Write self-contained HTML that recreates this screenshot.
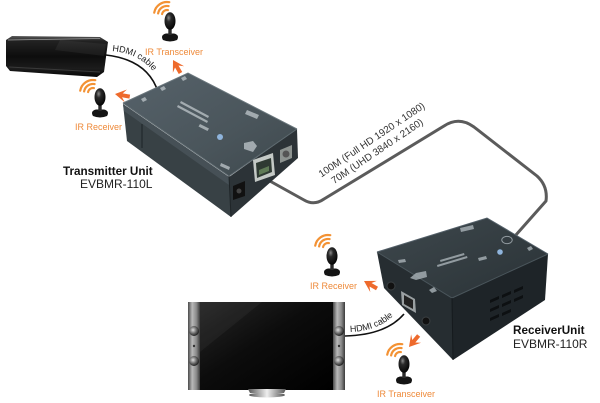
<!DOCTYPE html>
<html><head><meta charset="utf-8"><style>
html,body{margin:0;padding:0;background:#fff;}
svg{display:block;}
text{font-family:"Liberation Sans",Arial,sans-serif;}
</style></head><body>
<svg width="600" height="403" viewBox="0 0 600 403" xmlns="http://www.w3.org/2000/svg">
<defs>
 <radialGradient id="head" cx="0.38" cy="0.32" r="0.75">
  <stop offset="0" stop-color="#8a8a8a"/><stop offset="0.3" stop-color="#2a2a2a"/><stop offset="1" stop-color="#000"/>
 </radialGradient>
 <linearGradient id="ps3" x1="0" y1="0" x2="0" y2="1">
  <stop offset="0" stop-color="#5a5a5a"/><stop offset="0.12" stop-color="#222"/><stop offset="0.5" stop-color="#0d0d0d"/><stop offset="0.8" stop-color="#1c1c1c"/><stop offset="1" stop-color="#050505"/>
 </linearGradient>
 <linearGradient id="ttop" x1="0" y1="0" x2="1" y2="1">
  <stop offset="0" stop-color="#56626a"/><stop offset="0.6" stop-color="#4a555b"/><stop offset="1" stop-color="#3e484d"/>
 </linearGradient>
 <linearGradient id="rtop" x1="0" y1="0" x2="1" y2="1">
  <stop offset="0" stop-color="#3e484d"/><stop offset="1" stop-color="#2a3236"/>
 </linearGradient>
 <linearGradient id="bez" x1="0" y1="0" x2="1" y2="0">
  <stop offset="0" stop-color="#4a4a4a"/><stop offset="0.35" stop-color="#b8b8b8"/><stop offset="0.7" stop-color="#8a8a8a"/><stop offset="1" stop-color="#3a3a3a"/>
 </linearGradient>
 <linearGradient id="scr" x1="0" y1="0" x2="1" y2="1">
  <stop offset="0" stop-color="#262626"/><stop offset="0.45" stop-color="#0c0c0c"/><stop offset="1" stop-color="#000"/>
 </linearGradient>
 <radialGradient id="spk" cx="0.4" cy="0.4" r="0.6">
  <stop offset="0" stop-color="#ddd"/><stop offset="0.6" stop-color="#666"/><stop offset="1" stop-color="#222"/>
 </radialGradient>
 <linearGradient id="stand" x1="0" y1="0" x2="1" y2="0">
  <stop offset="0" stop-color="#555"/><stop offset="0.5" stop-color="#eee"/><stop offset="1" stop-color="#555"/>
 </linearGradient>
 <g id="sensor">
  <path d="M-7,19 Q-10,14 -4,12.5 L4,12.5 Q10,14 7,19 Q0,22 -7,19Z" fill="#141414"/>
  <rect x="-1.7" y="7" width="3.4" height="7" fill="#2a2a2a"/>
  <ellipse cx="0" cy="0" rx="5.5" ry="8.8" fill="url(#head)"/>
 </g>
 <g id="waves" fill="none" stroke="#f39234" stroke-width="2.2" stroke-linecap="round">
  <path d="M-4.9,-0.9 A5,5 0 0 1 0.9,-4.9"/>
  <path d="M-8.9,-1.6 A9,9 0 0 1 1.6,-8.9"/>
  <path d="M-12.8,-2.3 A13,13 0 0 1 2.3,-12.8"/>
 </g>
 <path id="arr" d="M0,0 L-11,-6.5 L-7.5,-2 L-15,-2 L-15,2 L-7.5,2 L-11,6.5 Z" fill="#ee6a2c"/>
</defs>

<!-- PS3 -->
<path d="M6,40 L12,36 L100,37 L108,42 L104,72 L97,77 L10,71 L6,66 Z" fill="url(#ps3)"/>
<path d="M8,40 L100,38.5" stroke="#9a9a9a" stroke-width="0.8"/>
<path d="M9,67 L100,72" stroke="#3a3a3a" stroke-width="1"/>
<path d="M60,40 L106,44 L104,56 L55,50 Z" fill="#ffffff" opacity="0.05"/>

<!-- top HDMI cable -->
<path d="M106,55 Q148,60 158,92" fill="none" stroke="#111" stroke-width="1.6"/>
<path id="hc1" d="M112,51 Q146,54 160,82" fill="none"/>
<text font-size="9" fill="#222"><textPath href="#hc1">HDMI cable</textPath></text>

<!-- main cable -->
<path d="M268,180 L304,200 Q314,206 324,199 L444,126 Q459,116 474,127 L537,176 Q548,186 546,201 L515,236" fill="none" stroke="#5b5b5b" stroke-width="3" stroke-linejoin="round"/>
<text font-size="10" fill="#333" text-anchor="middle" transform="translate(373.5,142.5) rotate(-34)">100M (Full HD 1920 x 1080)</text>
<text font-size="10" fill="#333" text-anchor="middle" transform="translate(379,154) rotate(-34)">70M (UHD 3840 x 2160)</text>

<!-- Transmitter box -->
<path d="M123,104 L229,177 L231,217 L127,141 Z" fill="#384145"/>
<path d="M123,104 L229,177 L229,185 L124,111 Z" fill="#465056"/>
<path d="M142,124 L142,148" stroke="#22292c" stroke-width="1.2"/>
<path d="M229,177 L297,129 L298,158 L231,217 Z" fill="#2c3337"/>
<path d="M123,103 L188,73 L297,129 L229,176 Z" fill="url(#ttop)"/>
<path d="M123,103 L188,73 L297,129" fill="none" stroke="#6b777d" stroke-width="1"/>
<path d="M123,103 L229,176 L297,129" fill="none" stroke="#5e6a70" stroke-width="1"/>
<path d="M229,176 L231,217" stroke="#1f2528" stroke-width="1"/>
<!-- top details -->
<g fill="#b8c0c4" opacity="0.8">
 <path d="M181,78 l4,-2 l2,3 l-4,2z"/>
 <path d="M160,88 l4,-2 l2,3 l-4,2z"/>
 <path d="M141,99 l4,-2 l2,3 l-4,2z"/>
 <path d="M181,101 l28,15 l-1,2 l-28,-15z"/>
 <path d="M178,105 l30,16 l-1,2 l-30,-16z"/>
 <path d="M200,124 l9,4.5 l-1.5,2.5 l-9,-4.5z"/>
 <path d="M247,110 l12,5 l-2,4 l-12,-5z"/>
 <path d="M244,143 l9,-2 l4,5 l-4,6 l-9,-3z"/>
 <path d="M221,163 l9,4 l-1,3 l-9,-4z"/>
</g>
<circle cx="220" cy="137" r="3" fill="#8fb4dc"/>
<!-- front ports -->
<path d="M253,160 L273,153 L275,175 L255,182 Z" fill="#c4c9c6"/>
<path d="M256,163 L271,158 L272,172 L257,178 Z" fill="#2f3a33"/>
<path d="M259,170 L269,166 L269,171 L259,175 Z" fill="#5f7a56"/>
<path d="M233,186 L245,181 L245,196 L233,200 Z" fill="#111"/>
<circle cx="239" cy="191" r="2.5" fill="#444"/>
<path d="M280,150 L292,145 L292,158 L280,163 Z" fill="#8d9390"/>
<circle cx="286" cy="154" r="3.5" fill="#555"/>

<!-- labels transmitter side -->
<use href="#waves" x="167" y="15"/>
<use href="#sensor" x="170" y="21"/>
<text x="145" y="55" font-size="9" fill="#ee8a3a">IR Transceiver</text>
<use href="#arr" transform="translate(173,60) rotate(-120)"/>

<use href="#waves" x="93" y="93"/>
<use href="#sensor" x="100" y="97"/>
<text x="75" y="130" font-size="9" fill="#ee8a3a">IR Receiver</text>
<use href="#arr" transform="translate(115,94) rotate(190)"/>

<text x="63" y="175" font-size="11.7" font-weight="bold" fill="#111">Transmitter Unit</text>
<text x="80" y="188" font-size="12" fill="#222">EVBMR-110L</text>

<!-- Receiver box -->
<path d="M377,252 L452,298 L453,360 L384,288 Z" fill="#262d31"/>
<path d="M452,298 L548,254 L545,300 L453,360 Z" fill="#1e2428"/>
<path d="M377,252 L487,218 L548,254 L452,298 Z" fill="url(#rtop)"/>
<path d="M377,252 L487,218 L548,254" fill="none" stroke="#55616a" stroke-width="1"/>
<path d="M377,252 L452,298 L548,254" fill="none" stroke="#4a555b" stroke-width="1"/>
<path d="M452,298 L453,360" stroke="#151a1d" stroke-width="1"/>
<g fill="#aab3b8" opacity="0.8">
 <path d="M460,228 l13,-3 l1,4 l-13,3z"/>
 <path d="M502,241 a5,3.5 0 1 0 10,-2 a5,3.5 0 1 0 -10,2z" fill="none" stroke="#aab3b8" stroke-width="1"/>
 <path d="M437,265 l30,-9 l0.5,2 l-30,9z"/>
 <path d="M440,260 l24,-7 l0.5,2 l-24,7z"/>
 <path d="M478,258 l8,-2 l1,3 l-8,2z"/>
 <path d="M398,260 l7,-1 l1,3 l-7,1z"/>
 <path d="M410,278 l6,-5 l10,-2 l1,6 l-11,3z"/>
 <path d="M429,290 l5,-3 l3,4 l-5,2z"/>
 <path d="M527,248 l4,-2 l2,3 l-4,2z"/>
</g>
<circle cx="500" cy="252" r="2.8" fill="#8fb4dc"/>
<!-- side ports -->
<circle cx="391" cy="286" r="4" fill="#111" stroke="#3a3f42" stroke-width="1"/>
<path d="M401,291 L415,299 L416,313 L402,305 Z" fill="#9aa0a2"/>
<path d="M404,295 L413,300 L413,309 L404,304 Z" fill="#222"/>
<circle cx="426" cy="321" r="4" fill="#111" stroke="#3a3f42" stroke-width="1"/>
<!-- vents -->
<g fill="#0d1012">
 <path d="M490,300 l9,-4 l0,3 l-9,4z"/>
 <path d="M502,295 l9,-4 l0,3 l-9,4z"/>
 <path d="M514,290 l9,-4 l0,3 l-9,4z"/>
 <path d="M490,309 l9,-4 l0,3 l-9,4z"/>
 <path d="M502,304 l9,-4 l0,3 l-9,4z"/>
 <path d="M514,299 l9,-4 l0,3 l-9,4z"/>
 <path d="M490,318 l9,-4 l0,3 l-9,4z"/>
 <path d="M502,313 l9,-4 l0,3 l-9,4z"/>
</g>

<!-- TV -->
<rect x="188" y="302" width="12" height="88" fill="url(#bez)"/>
<rect x="333" y="302" width="12" height="88" fill="url(#bez)"/>
<rect x="200" y="302" width="133" height="88" fill="url(#scr)"/>
<path d="M200,302 L262,302 L200,352 Z" fill="#fff" opacity="0.04"/>
<ellipse cx="194" cy="331" rx="5" ry="5" fill="url(#spk)"/>
<ellipse cx="194" cy="361" rx="5" ry="5" fill="url(#spk)"/>
<ellipse cx="339" cy="331" rx="5" ry="5" fill="url(#spk)"/>
<ellipse cx="339" cy="361" rx="5" ry="5" fill="url(#spk)"/>
<circle cx="194" cy="346" r="1.2" fill="#333"/>
<circle cx="339" cy="346" r="1.2" fill="#333"/>
<path d="M248,389 L286,389 L284,393 L250,393 Z" fill="url(#stand)"/>
<ellipse cx="267" cy="395" rx="18" ry="2.5" fill="url(#stand)"/>

<!-- bottom HDMI cable -->
<path d="M345,336 Q386,335 404,314" fill="none" stroke="#111" stroke-width="1.6"/>
<path id="hc2" d="M350,332 Q381,331 398,311" fill="none"/>
<text font-size="9" fill="#222"><textPath href="#hc2">HDMI cable</textPath></text>

<!-- receiver side labels -->
<use href="#waves" x="328" y="248"/>
<use href="#sensor" x="332" y="256"/>
<text x="310" y="289" font-size="9" fill="#ee8a3a">IR Receiver</text>
<use href="#arr" transform="translate(364,281) rotate(210)"/>

<use href="#waves" x="400" y="357"/>
<use href="#sensor" x="404" y="364"/>
<text x="377" y="397" font-size="9" fill="#ee8a3a">IR Transceiver</text>
<use href="#arr" transform="translate(409,347) rotate(130)"/>

<text x="513" y="334" font-size="11.7" font-weight="bold" fill="#111">ReceiverUnit</text>
<text x="513" y="348" font-size="12" fill="#222">EVBMR-110R</text>
</svg>
</body></html>
